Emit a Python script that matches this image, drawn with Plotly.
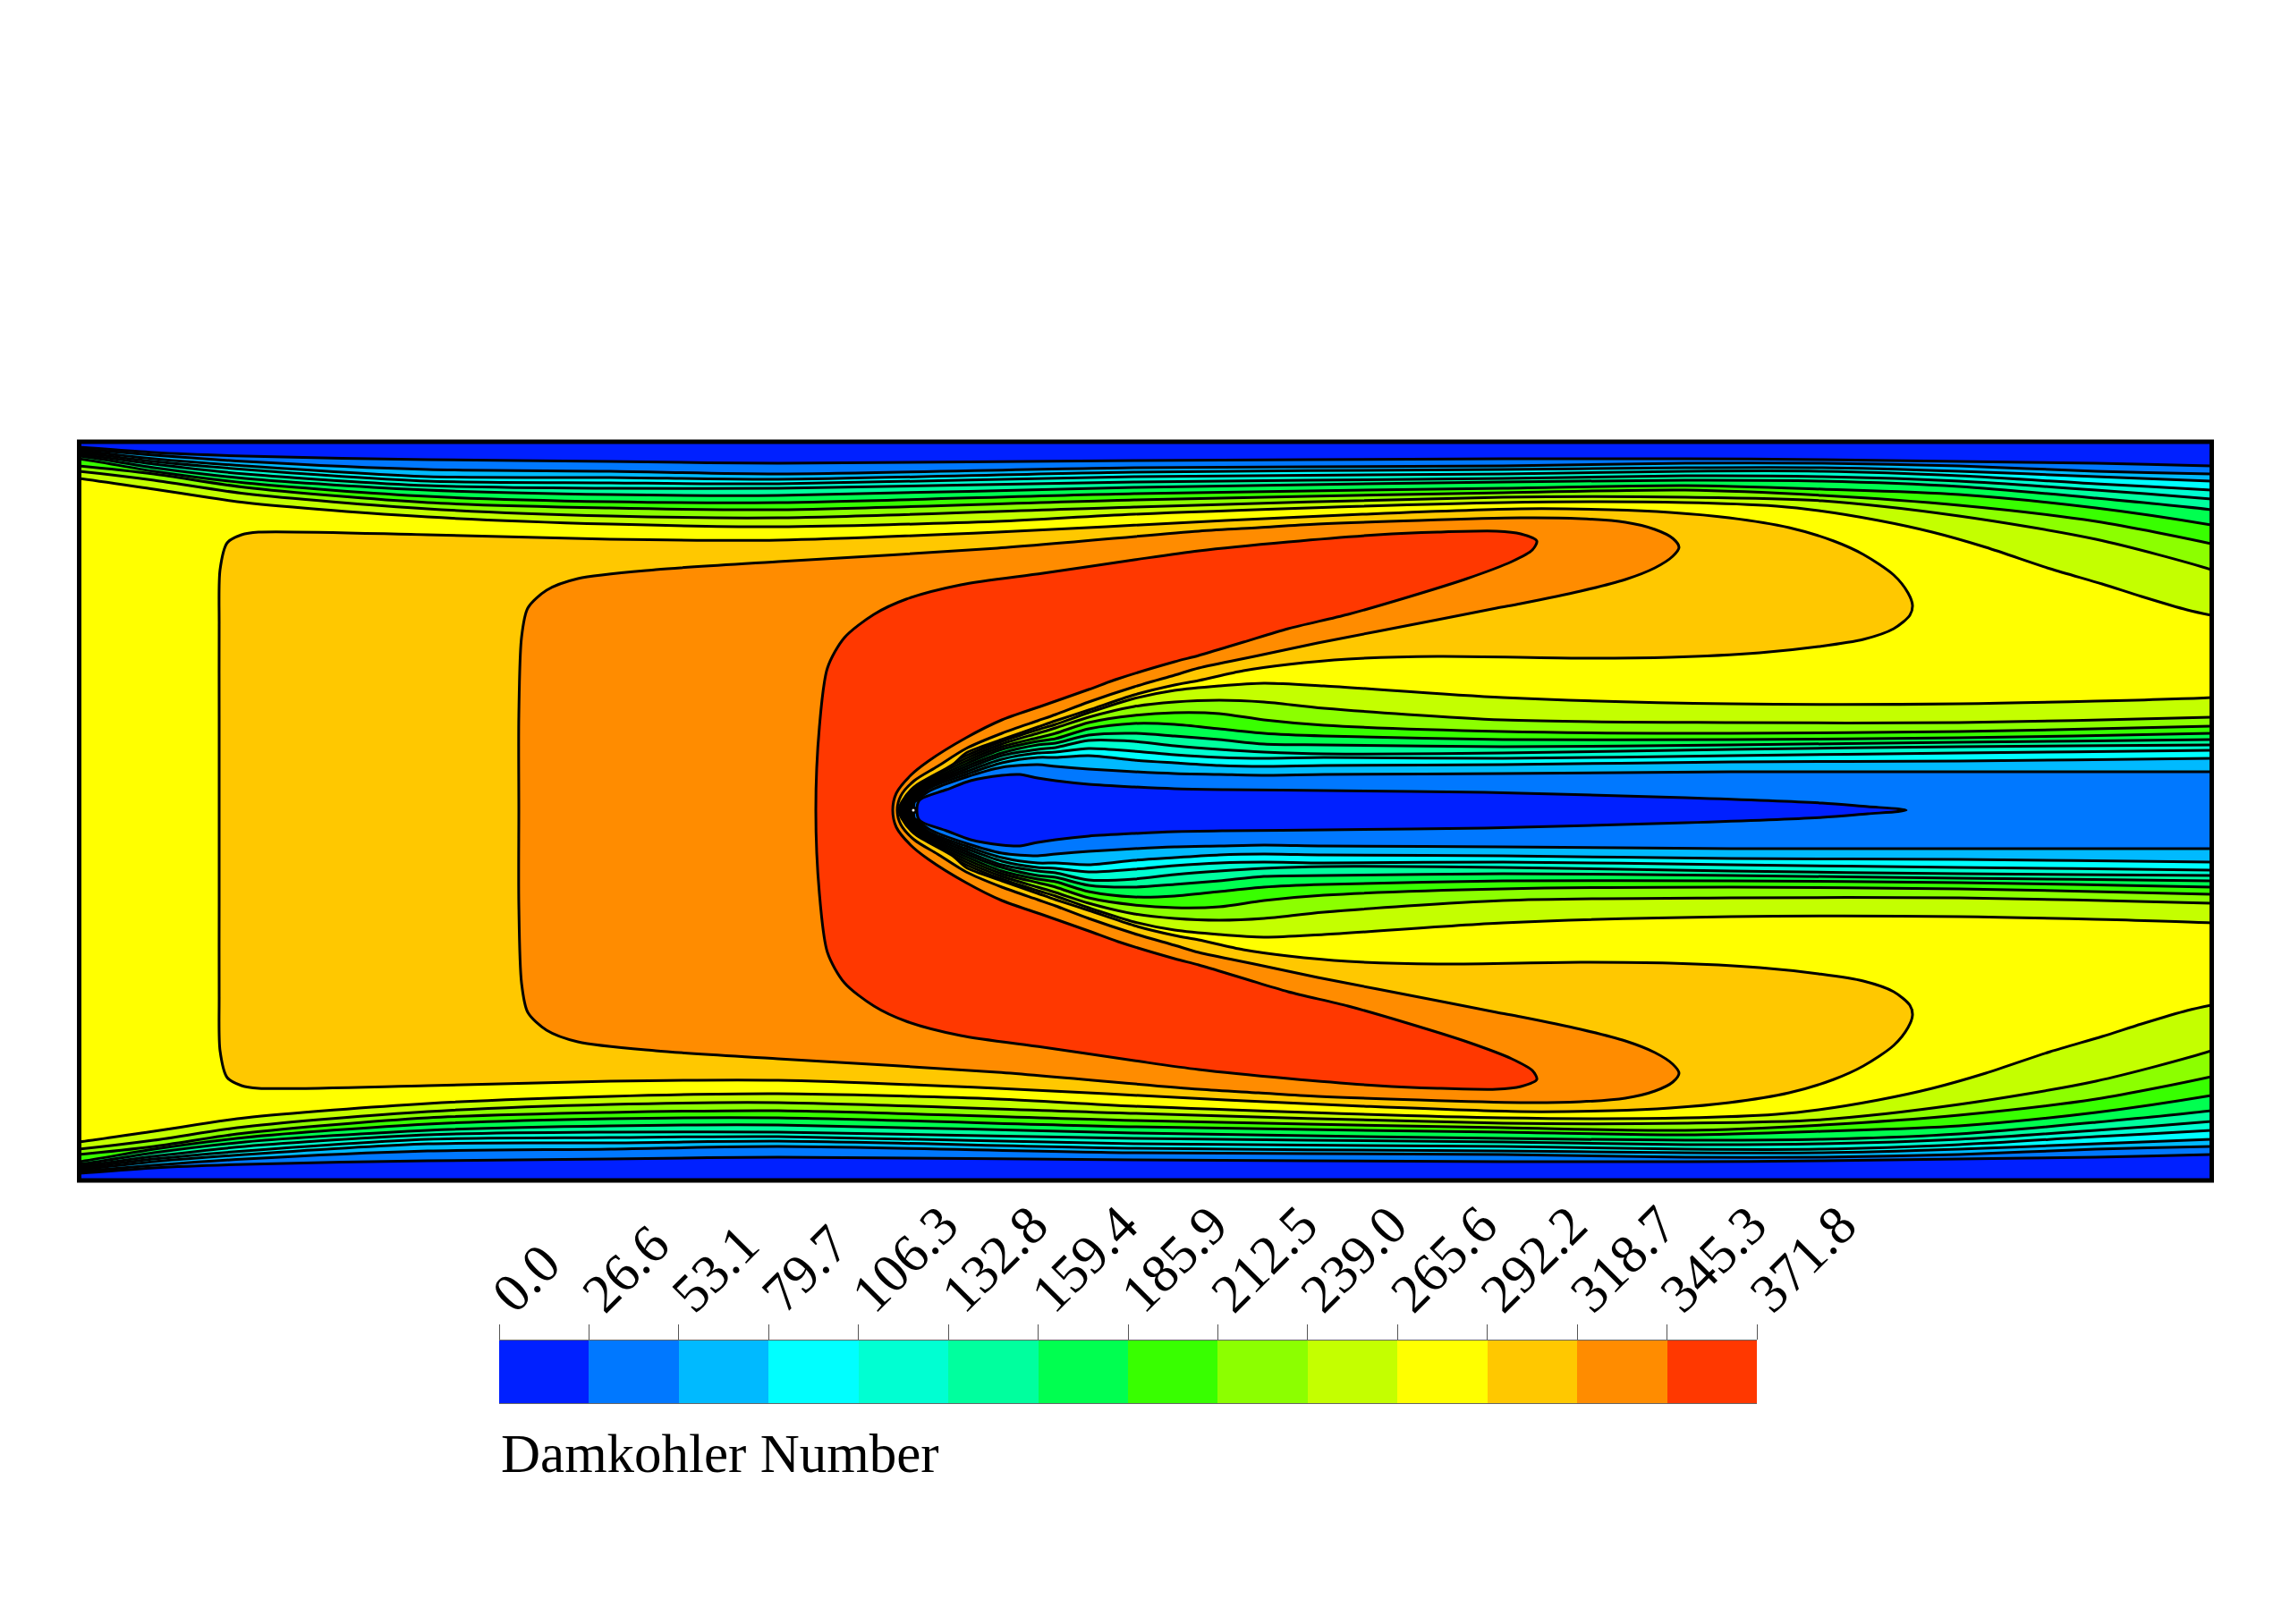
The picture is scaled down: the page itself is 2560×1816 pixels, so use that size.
import plotly.graph_objects as go

# ---- Colour bar values -------------------------------------------------
LEVELS = [0.0, 26.6, 53.1, 79.7, 106.3, 132.8, 159.4, 185.9, 212.5, 239.0,
          265.6, 292.2, 318.7, 345.3, 371.8]
LEVEL_TEXT = ["0.0", "26.6", "53.1", "79.7", "106.3", "132.8", "159.4", "185.9",
              "212.5", "239.0", "265.6", "292.2", "318.7", "345.3", "371.8"]
BAND_COLORS = ["#0020ff", "#0078ff", "#00baff", "#00ffff", "#00ffd2", "#00ff9e", "#00ff50",
               "#38ff00", "#8cff00", "#c4ff00", "#ffff00", "#ffc800", "#ff8c00", "#ff3800"]
TITLE = "Damkohler Number"

# ---- Contour lines (upper half of the channel) ----
CENTRE_Y = 906
STAGNATION_X = 1021

WALL_X = [40, 88, 172, 274, 478, 682, 870, 1268, 1680, 1884, 2037, 2190, 2343, 2472, 2520]
WALL_L1 = [497, 500, 506, 510, 514, 516, 518, 515, 513, 513, 514, 516, 518, 521, 523]
WALL_L2 = [499, 502, 509, 516, 525, 527, 530, 523, 521, 518, 518, 521, 527, 530, 532]
WALL_L3 = [501, 504, 513, 521, 533, 534, 536, 528, 525, 523, 523, 527, 533, 538, 541]
WALL_L4 = [503, 506, 516, 525, 538, 540, 541, 533, 530, 527, 527, 532, 541, 548, 552]
WALL_L5 = [505, 508, 519, 530, 543, 546, 546, 539, 535, 532, 533, 538, 548, 558, 563]
WALL_L6 = [507, 510, 523, 535, 548, 553, 554, 545, 539, 537, 538, 544, 557, 570, 577]
WALL_L7 = [509, 513, 527, 540, 555, 561, 562, 552, 546, 543, 547, 553, 568, 587, 596]
WALL_L8 = [517, 521, 530, 545, 562, 568, 570, 559, 551, 548, 554, 565, 583, 608, 620]
WALL_L9 = [523, 527, 537, 552, 569, 577, 579, 567, 556, 556, 560, 577, 603, 637, 655]
WALL_L10_X = [40, 88, 172, 274, 478, 682, 870, 1115, 1268, 1680, 1884, 1986, 2033, 2100, 2160, 2220, 2292, 2350, 2394, 2445, 2472, 2520]
WALL_L10 = [530, 535, 547, 562, 578, 586, 589, 583, 575, 562, 562, 566, 571, 582, 595, 612, 636, 653, 667, 682, 688, 697]

# wake lines: nose point on the centreline, a point just above it, then the columns
WAKE_X = [1022, 1040, 1080, 1120, 1160, 1180, 1217, 1268, 1313, 1363, 1413, 1480, 1680, 1935, 2190, 2472, 2520]
WAKE_L2 = [897, 884, 869, 858, 855, 857, 860, 863, 865, 866, 867, 866, 865, 863, 863, 863, 863]
WAKE_L3 = [895, 881, 866, 853, 847, 847, 845, 850, 853, 856, 857, 856, 855, 852, 851, 848, 847]
WAKE_L4 = [893, 879, 863, 849, 842, 841, 837, 840, 844, 847, 848, 847, 848, 845, 842, 839, 838]
WAKE_L5 = [891, 877, 860, 845, 838, 836, 828, 829, 834, 838, 841, 843, 842, 838, 835, 833, 832]
WAKE_L6 = [889, 875, 857, 842, 833, 831, 822, 820, 823, 827, 832, 833, 835, 833, 830, 827, 826]
WAKE_L7 = [887, 873, 854, 838, 829, 826, 815, 809, 810, 815, 820, 823, 827, 827, 825, 820, 818]
WAKE_L8 = [885, 871, 851, 835, 825, 820, 808, 800, 797, 798, 805, 811, 818, 820, 818, 812, 810]
WAKE_L9 = [883, 869, 848, 832, 820, 814, 802, 790, 785, 783, 785, 792, 805, 808, 808, 802, 800]
WAKE_L10 = [881, 867, 845, 829, 816, 810, 797, 781, 772, 767, 764, 767, 780, 787, 787, 780, 776]
NOSE_X = {2: 1021, 3: 1019.5, 4: 1018, 5: 1016.5, 6: 1015, 7: 1013, 8: 1011, 9: 1009, 10: 1007}
NEAR_NOSE_X = {2: 1022, 3: 1021, 4: 1020, 5: 1018, 6: 1016, 7: 1015, 8: 1014, 9: 1012, 10: 1010}
NEAR_NOSE_Y = 897

# closed lines, from the centreline on the left, over the top, round the tip, back to the nose
CORE_X = [1025, 1027, 1032, 1058, 1085, 1120, 1140, 1160, 1180, 1217, 1268, 1313, 1370, 1480, 1660, 1884, 2037, 2088, 2122, 2131]
CORE_Y = [906, 896, 892, 883, 873, 867, 866, 870, 873, 877, 880, 882, 883, 884, 886, 892, 898, 902, 904.5, 906]

L11_X = [245, 245, 245, 246, 254, 270, 289, 478, 682, 870, 1115, 1370, 1523, 1700, 1800, 1867, 1933, 2000, 2050, 2083, 2117, 2133, 2138,
         2135, 2117, 2083, 2033, 1967, 1867, 1767, 1607, 1507, 1440, 1390, 1340, 1313, 1268, 1217, 1180, 1160, 1120, 1080, 1065, 1022, 1008, 1005]
L11_Y = [906, 800, 700, 637, 607, 598, 595, 598, 603, 604, 595, 582, 575, 569, 570, 573, 579, 590, 605, 620, 643, 663, 677,
         688, 703, 715, 723, 730, 735, 736, 734, 737, 743, 750, 761, 766, 777, 794, 806, 813, 827, 842, 855, 880, 897, 906]

L12_X = [580, 580, 583, 590, 611, 646, 733, 870, 1115, 1340, 1407, 1473, 1700, 1767, 1817, 1850, 1870, 1877, 1870, 1850, 1817, 1767, 1700,
         1673, 1607, 1540, 1473, 1407, 1340, 1313, 1268, 1217, 1180, 1160, 1120, 1080, 1048, 1022, 1007, 1003]
L12_Y = [906, 800, 713, 680, 660, 647, 637, 628, 613, 594, 590, 586, 579, 580, 584, 592, 602, 612, 622, 635, 648, 661, 675,
         680, 693, 706, 719, 733, 747, 755, 768, 785, 799, 806, 820, 837, 857, 873, 890, 906]

L13_X = [912, 916, 925, 944, 977, 1013, 1074, 1166, 1268, 1340, 1440, 1540, 1607, 1673, 1700, 1718, 1713, 1690, 1640,
         1573, 1507, 1440, 1390, 1340, 1313, 1250, 1217, 1163, 1120, 1080, 1038, 1018, 1002, 998]
L13_Y = [906, 813, 747, 713, 687, 670, 654, 641, 626, 616, 606, 598, 595, 594, 597, 605, 615, 628, 647,
         668, 687, 703, 718, 733, 740, 759, 771, 790, 805, 825, 851, 867, 887, 906]


def mirror(values):
    return [2 * CENTRE_Y - v for v in values]


def band_trace(xs, ys, level_index):
    return go.Scatter(
        x=xs, y=ys, mode="lines", fill="toself",
        fillcolor=BAND_COLORS[level_index],
        line=dict(color="black", width=3, shape="spline", smoothing=0.8),
        hoverinfo="skip", showlegend=False, name=LEVEL_TEXT[level_index],
    )


def closed(xs, ys, level_index):
    return band_trace(xs + xs[-2::-1], ys + mirror(ys)[-2::-1], level_index)


def open_band(wall_x, wall_y, wake_y, level):
    wake_x = [NOSE_X[level], NEAR_NOSE_X[level]] + WAKE_X
    wake_v = [CENTRE_Y, NEAR_NOSE_Y] + wake_y
    xs = wall_x + wake_x[::-1] + wake_x[1:] + wall_x[::-1]
    ys = wall_y + wake_v[::-1] + mirror(wake_v)[1:] + mirror(wall_y)[::-1]
    return band_trace(xs, ys, level)


fig = go.Figure()
# whole channel between the two L1 wall lines
fig.add_trace(band_trace(WALL_X + WALL_X[::-1], WALL_L1 + mirror(WALL_L1)[::-1], 1))
fig.add_trace(closed(CORE_X, CORE_Y, 0))
for lvl, wall, wake in [(2, WALL_L2, WAKE_L2), (3, WALL_L3, WAKE_L3), (4, WALL_L4, WAKE_L4),
                        (5, WALL_L5, WAKE_L5), (6, WALL_L6, WAKE_L6), (7, WALL_L7, WAKE_L7),
                        (8, WALL_L8, WAKE_L8), (9, WALL_L9, WAKE_L9)]:
    fig.add_trace(open_band(WALL_X, wall, wake, lvl))
fig.add_trace(open_band(WALL_L10_X, WALL_L10, WAKE_L10, 10))
fig.add_trace(closed(L11_X, L11_Y, 11))
fig.add_trace(closed(L12_X, L12_Y, 12))
fig.add_trace(closed(L13_X, L13_Y, 13))
fig.add_trace(go.Scatter(x=[STAGNATION_X], y=[CENTRE_Y], mode="markers",
                         marker=dict(color="white", size=6, line=dict(color="black", width=3)),
                         hoverinfo="skip", showlegend=False))

# colour bar as a one-row heatmap with its own axis
n = len(BAND_COLORS)
scale = []
for i, c in enumerate(BAND_COLORS):
    scale += [[i / n, c], [(i + 1) / n, c]]
fig.add_trace(go.Heatmap(x=LEVELS, y=[0, 1], z=[list(range(n))],
                         zmin=-0.5, zmax=n - 0.5, colorscale=scale,
                         showscale=False, hoverinfo="skip", xaxis="x2", yaxis="y2"))

W, H = 2560, 1816
FONT = "Liberation Serif"
fig.update_layout(
    width=W, height=H, margin=dict(l=0, r=0, t=0, b=0, autoexpand=False),
    paper_bgcolor="white", plot_bgcolor=BAND_COLORS[0],
    font=dict(family=FONT, color="black"),
    xaxis=dict(visible=False, automargin=False, range=[88, 2472], domain=[88 / W, 2472 / W]),
    yaxis=dict(visible=False, automargin=False, range=[1320, 493], domain=[1 - 1320 / H, 1 - 493 / H]),
    xaxis2=dict(anchor="y2", automargin=False, domain=[558 / W, 1964 / W], range=[0, 371.8], side="top",
                tickmode="array", tickvals=LEVELS, ticktext=LEVEL_TEXT, tickangle=-45,
                ticks="outside", ticklen=17, tickwidth=1, tickcolor="#555555",
                tickfont=dict(family=FONT, size=61, color="black"),
                ticklabelstandoff=-23, ticklabelshift=-4,
                showline=True, mirror=True, linecolor="#666666", linewidth=1,
                showgrid=False, zeroline=False),
    yaxis2=dict(anchor="x2", automargin=False, domain=[1 - 1569 / H, 1 - 1499 / H], range=[0, 1], visible=False),
    shapes=[dict(type="rect", xref="paper", yref="paper", x0=88.5 / W, x1=2472.5 / W,
                 y0=1 - 1320 / H, y1=1 - 494 / H, line=dict(color="black", width=5), layer="above")],
    annotations=[dict(text=TITLE, xref="paper", yref="paper", x=558 / W, y=1 - 1625 / H,
                      xanchor="left", yanchor="middle", showarrow=False,
                      font=dict(family=FONT, size=61, color="black"))],
)
fig.write_html("out.html", config={"displayModeBar": False},
               post_script="document.body.style.margin='0';")
